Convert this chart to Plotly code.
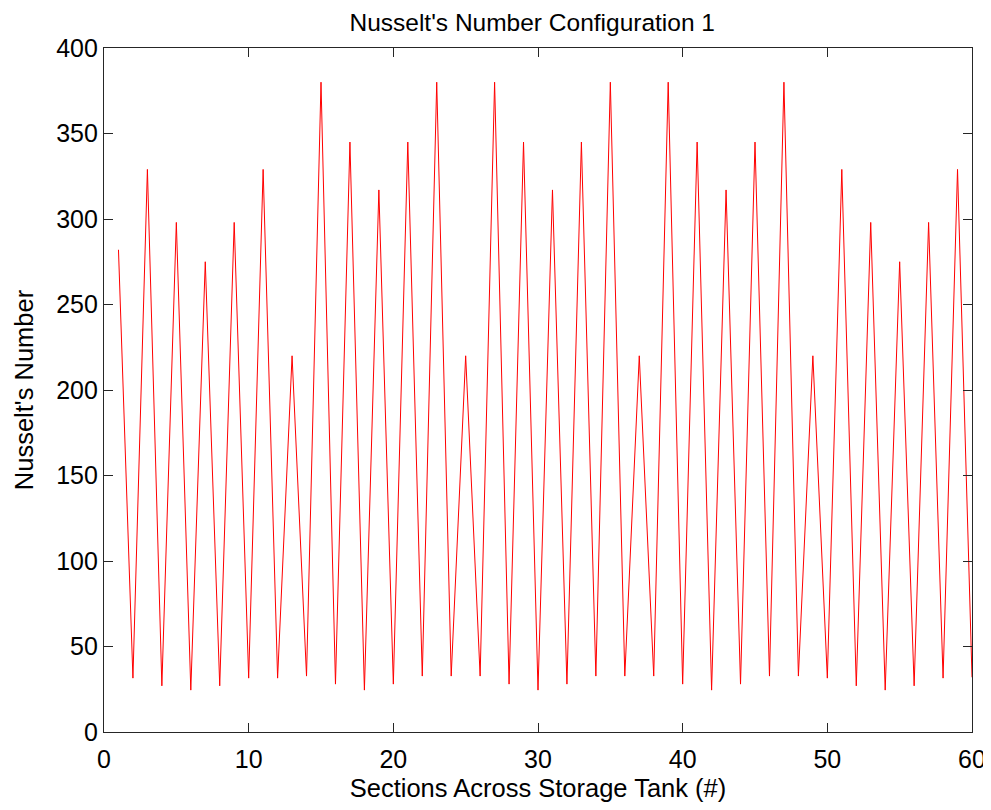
import plotly.graph_objects as go

# Section index across the storage tank
sections = list(range(1, 61))

# Nusselt's number per section
nusselt = [
    282, 31.5, 329, 27, 298, 24.5, 275, 27, 298, 31.5,
    329, 31.5, 220, 32.7, 380, 28, 345, 24.5, 317, 28,
    345, 32.7, 380, 32.7, 220, 32.7, 380, 28, 345, 24.5,
    317, 28, 345, 32.7, 380, 32.7, 220, 32.7, 380, 28,
    345, 24.5, 317, 28, 345, 32.7, 380, 32.7, 220, 31.5,
    329, 27, 298, 24.5, 275, 27, 298, 31.5, 329, 32,
]

x_ticks = [0, 10, 20, 30, 40, 50, 60]
y_ticks = [0, 50, 100, 150, 200, 250, 300, 350, 400]

title_text = "Nusselt's Number Configuration 1"
x_label = "Sections Across Storage Tank (#)"
y_label = "Nusselt's Number"

FONT = "Liberation Sans, Arial, sans-serif"

fig = go.Figure()
fig.add_trace(go.Scatter(
    x=sections, y=nusselt, mode="lines",
    line=dict(color="#FF0000", width=1),
    showlegend=False, hoverinfo="x+y",
))

axis_common = dict(
    showline=True, linecolor="#262626", linewidth=1.3,
    mirror="allticks", ticks="inside", ticklen=9, tickwidth=1.3,
    tickcolor="#262626", showgrid=False, zeroline=False,
    tickfont=dict(family=FONT, size=25, color="#000000"),
)

fig.update_layout(
    width=991, height=810,
    paper_bgcolor="white", plot_bgcolor="white",
    margin=dict(l=96, r=27, t=40, b=86, autoexpand=False),
    title=dict(
        text=title_text, x=0.529, xanchor="center",
        y=1 - 14 / 810, yanchor="middle", yref="container",
        font=dict(family=FONT, size=24.5, color="#000000"),
    ),
    xaxis=dict(
        range=[0, 60], tickvals=x_ticks, ticktext=[str(v) for v in x_ticks],
        ticklabelstandoff=5,
        title=dict(text=x_label, standoff=6,
                   font=dict(family=FONT, size=25.5, color="#000000")),
        **axis_common,
    ),
    yaxis=dict(
        range=[0, 400], tickvals=y_ticks, ticktext=[str(v) for v in y_ticks],
        title=dict(text=y_label, standoff=15,
                   font=dict(family=FONT, size=25.5, color="#000000")),
        **axis_common,
    ),
)

fig.write_html("out.html")
